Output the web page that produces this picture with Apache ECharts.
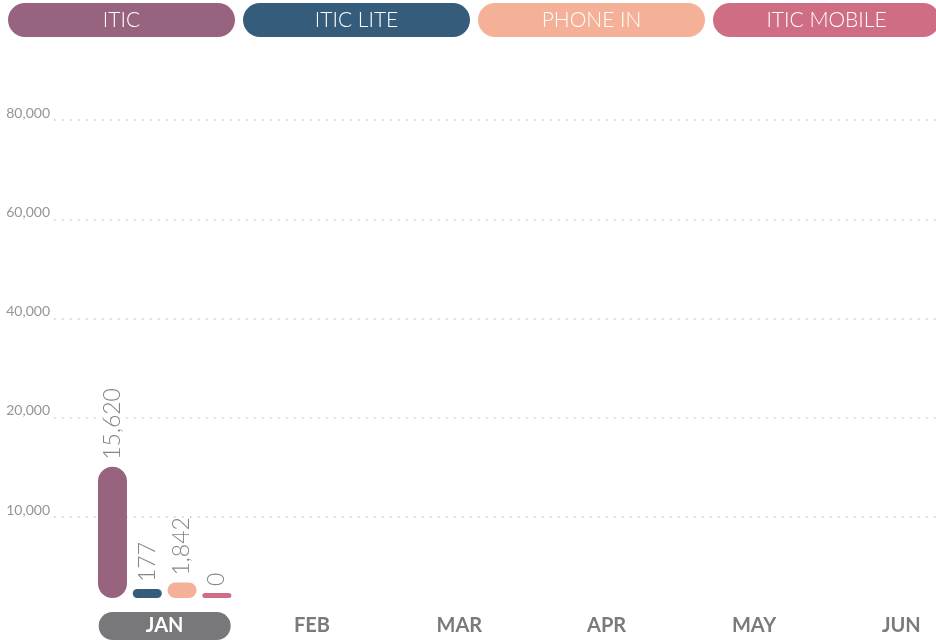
<!DOCTYPE html>
<html>
<head>
<meta charset="utf-8">
<style>
  html, body { margin: 0; padding: 0; background: #fff; }
  #chart { width: 936px; height: 641px; }
</style>
<script src="https://cdn.jsdelivr.net/npm/echarts@6/dist/echarts.min.js"></script>
</head>
<body>
<div id="chart"></div>
<script>
// 月份
const months = ['JAN', 'FEB', 'MAR', 'APR', 'MAY', 'JUN']
const selectedMonth = 'JAN'

// 各渠道数据（只有一月有值）
const seriesNames = ['ITIC', 'ITIC LITE', 'PHONE IN', 'ITIC MOBILE']
const iticData = [15620, null, null, null, null, null]
const iticLiteData = [177, null, null, null, null, null]
const phoneInData = [1842, null, null, null, null, null]
const iticMobileData = [0, null, null, null, null, null]

// y 轴刻度文字
const yTickLabels = ['10,000', '20,000', '40,000', '60,000', '80,000']

const colors = ['#98637f', '#365c7b', '#f5b098', '#cf6d84']
const font = 'Lato, "Open Sans", sans-serif'

const allData = [iticData, iticLiteData, phoneInData, iticMobileData]
const minHeights = [0, 9, 0, 5]

// 图例胶囊
const legendRich = {}
seriesNames.forEach((name, i) => {
  legendRich['p' + i] = {
    width: 227,
    height: 34,
    lineHeight: 34,
    align: 'center',
    borderRadius: 17,
    backgroundColor: colors[i],
    color: '#fff',
    fontSize: 21,
    fontWeight: 300,
    fontFamily: font
  }
})

const myChart = echarts.init(document.getElementById('chart'), null, { renderer: 'canvas' })

const option = {
  animation: false,
  color: colors,
  legend: {
    left: 3,
    top: 3,
    width: 1000,
    itemWidth: 0,
    itemHeight: 0,
    itemGap: 3,
    padding: 0,
    selectedMode: false,
    data: seriesNames,
    formatter: function (name) {
      return '{p' + seriesNames.indexOf(name) + '|' + name + '}'
    },
    textStyle: { rich: legendRich }
  },
  grid: [
    // 网格线
    { left: 54, right: 0, top: 120, bottom: 24.75, outerBoundsMode: 'none' },
    // 柱子（右侧超出画布）
    { left: 91, right: -39, top: 120, bottom: 43, outerBoundsMode: 'none' }
  ],
  xAxis: [
    { type: 'value', gridIndex: 0, show: false, min: 0, max: 1 },
    {
      type: 'category',
      gridIndex: 1,
      data: months,
      axisLine: { show: false },
      axisTick: { show: false },
      axisLabel: {
        margin: 14,
        interval: 0,
        formatter: function (v) {
          return v === selectedMonth ? '{sel|' + v + '}' : '{m|' + v + '}'
        },
        rich: {
          sel: {
            width: 132,
            height: 28,
            lineHeight: 28,
            align: 'center',
            borderRadius: 14,
            backgroundColor: '#78787b',
            color: '#fff',
            fontSize: 20,
            fontWeight: 'bold',
            fontFamily: font
          },
          m: {
            height: 28,
            lineHeight: 28,
            color: '#7a7a7a',
            fontSize: 20,
            fontWeight: 'bold',
            fontFamily: font
          }
        }
      }
    }
  ],
  yAxis: [
    {
      type: 'value',
      gridIndex: 0,
      min: 0,
      max: 5,
      interval: 1,
      axisLine: { show: false },
      axisTick: { show: false },
      axisLabel: {
        margin: 4,
        verticalAlign: 'bottom',
        color: '#959595',
        fontSize: 14,
        fontFamily: font,
        formatter: function (v) {
          return v === 0 ? '' : yTickLabels[v - 1]
        }
      },
      splitLine: {
        lineStyle: {
          color: ['rgba(0,0,0,0)', '#c8c8c8', '#c8c8c8', '#c8c8c8', '#c8c8c8', '#c8c8c8'],
          width: 1.5,
          type: [1.5, 6.5]
        }
      }
    },
    { type: 'value', gridIndex: 1, show: false, min: 0, max: 56900, splitLine: { show: false } }
  ],
  series: seriesNames.map((name, i) => ({
    name: name,
    type: 'bar',
    xAxisIndex: 1,
    yAxisIndex: 1,
    data: allData[i],
    barWidth: 29,
    barGap: '20%',
    barMinHeight: minHeights[i],
    itemStyle: { color: colors[i], borderRadius: 15 },
    label: {
      show: true,
      position: 'top',
      rotate: 90,
      align: 'left',
      verticalAlign: 'middle',
      distance: 7,
      color: '#858585',
      fontSize: 23,
      fontWeight: 300,
      fontFamily: font,
      formatter: function (p) {
        return p.value.toLocaleString('en-US')
      }
    }
  }))
}

myChart.setOption(option)
</script>
</body>
</html>
